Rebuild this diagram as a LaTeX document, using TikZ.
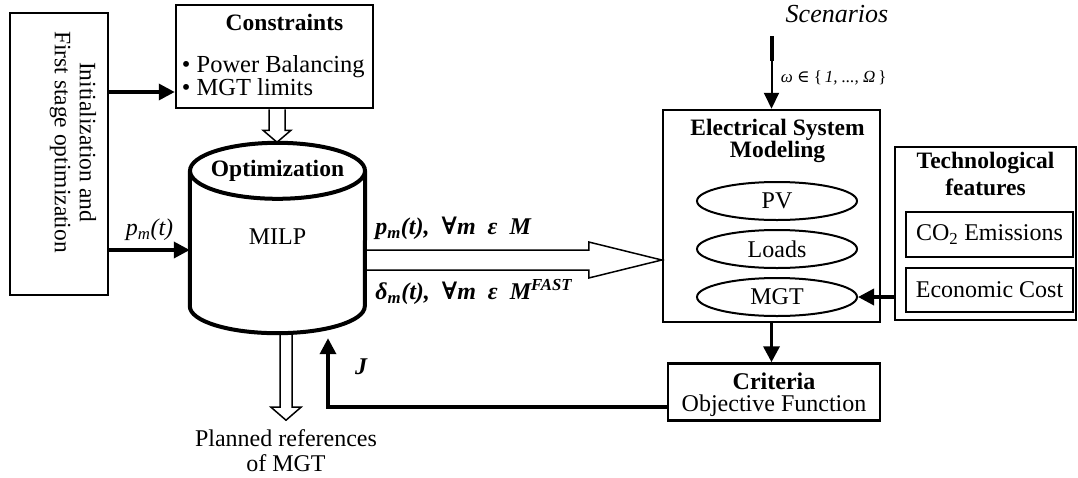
\documentclass[tikz,border=0pt]{standalone}
\usepackage{fontspec}
\setmainfont{Liberation Serif}
\newfontfamily\symfont{DejaVu Serif}
\usetikzlibrary{arrows.meta, positioning, calc, shapes.geometric}

\newcommand{\bigfont}{\fontsize{24}{22}\selectfont}

\begin{document}
\begin{tikzpicture}[x=1pt, y=-1pt, font=\bigfont,
	box/.style={draw, line width=2.5pt, inner sep=0pt},
	oval/.style={ellipse, draw, line width=2pt, minimum width=160pt, minimum height=38pt, inner sep=0pt},
	arr/.style={line width=3.5pt, -{Triangle[length=16pt, width=16pt]}},
	thinarr/.style={line width=2pt, -{Triangle[length=16pt, width=15pt]}},
	hollow/.style={draw, line width=1.5pt, line join=miter},
	cylline/.style={line width=4pt},
	cylshadow/.style={line width=3pt, gray!55}]
	\useasboundingbox (0,0) rectangle (1078,477);

	% initialization block
	\node[box, minimum width=98pt, minimum height=282pt] (init) at (59,154) {};
	\node[rotate=-90, align=center, font=\fontsize{23.5}{25}\selectfont] (initlbl)
		at ([xshift=14pt, yshift=12pt]init.center) {Initialization and\\First stage optimization};

	% constraints
	\node[box, minimum width=197pt, minimum height=103pt] (cons) at (274.5,56.5) {};
	\node[anchor=north, inner sep=0pt, font=\fontsize{23.5}{22}\selectfont\bfseries] (constitle)
		at ([xshift=10pt, yshift=-10pt]cons.north) {Constraints};
	\node[anchor=north west, align=left, inner sep=0pt, font=\fontsize{24.5}{23}\selectfont] (conslist)
		at ([xshift=7pt, yshift=-52pt]cons.north west) {\textbullet{} Power Balancing\\\textbullet{} MGT limits};
	\draw[arr] (init.east |- 0,92) -- (cons.west |- 0,92);

	% optimization cylinder
	\node[minimum width=175pt, minimum height=190pt, inner sep=0pt] (cyl) at (277.5,238) {};
	\begin{scope}[shift={(3,4)}]
		\draw[cylshadow] ([yshift=-28pt]cyl.north west) -- ([yshift=27pt]cyl.south west)
			arc[start angle=180, end angle=360, x radius=87.5pt, y radius=27pt] -- ([yshift=-28pt]cyl.north east);
		\draw[cylshadow] ([yshift=-28pt]cyl.north) ellipse[x radius=87.5pt, y radius=28pt];
	\end{scope}
	\draw[cylline] ([yshift=-28pt]cyl.north west) -- ([yshift=27pt]cyl.south west)
		arc[start angle=180, end angle=360, x radius=87.5pt, y radius=27pt] -- ([yshift=-28pt]cyl.north east);
	\draw[cylline] ([yshift=-28pt]cyl.north) ellipse[x radius=87.5pt, y radius=28pt];
	\node[font=\fontsize{23.5}{22}\selectfont\bfseries] (opt) at ([yshift=-28pt]cyl.north) {Optimization};
	\node (milp) at ([yshift=-94pt]cyl.north) {MILP};

	\draw[hollow] ([xshift=-5.5pt]cons.south) -- ++(0,21) -- ++(-6,0) -- ++(14,12) -- ++(14,-12) -- ++(-6,0) -- ++(0,-21);

	\coordinate (pin) at ([yshift=-12pt]cyl.west);
	\draw[arr] (init.east |- pin) -- (pin) node[midway, above=4pt] {\textit{p\textsubscript{m}(t)}};

	% electrical system
	\node[box, minimum width=217pt, minimum height=212pt] (elec) at (771.5,216) {};
	\node[anchor=north, align=center, inner sep=0pt, font=\fontsize{23.5}{21}\selectfont\bfseries] (electitle)
		at ([xshift=6pt, yshift=-10pt]elec.north) {Electrical System\\Modeling};
	\node[oval] (pv) at ([xshift=5.5pt, yshift=15pt]elec.center) {PV};
	\node[oval, below=8pt of pv] (loads) {Loads};
	\node[oval, below=8pt of loads] (mgt) {MGT};

	% big output arrow
	\coordinate (bigA) at ([yshift=-22pt]cyl.east);
	\coordinate (tipE) at (elec.west |- bigA);
	\draw[hollow] ([yshift=10pt]bigA) -- ([xshift=-73pt, yshift=10pt]tipE) -- ([xshift=-73pt, yshift=18pt]tipE)
		-- (tipE) -- ([xshift=-73pt, yshift=-18pt]tipE) -- ([xshift=-73pt, yshift=-10pt]tipE) -- ([yshift=-10pt]bigA);
	\node[anchor=south west, inner sep=0pt, font=\bigfont\bfseries\itshape] (plbl)
		at ([xshift=10pt, yshift=20pt]bigA) {p\textsubscript{m}(t),\ \ {\symfont ∀}m\ \ ε\ \ M};
	\node[anchor=north west, inner sep=0pt, font=\bigfont\bfseries\itshape] (dlbl)
		at ([xshift=10pt, yshift=-19pt]bigA) {δ\textsubscript{m}(t),\ \ {\symfont ∀}m\ \ ε\ \ M\textsuperscript{FAST}};

	% scenarios
	\node[font=\fontsize{26}{26}\selectfont\itshape] (scen) at (837,14) {Scenarios};
	\draw[line width=4pt] ([yshift=-10pt]elec.north |- scen.south) -- ++(0,25) coordinate (scmid);
	\draw[thinarr] (scmid) -- (elec.north)
		node[pos=0.36, right=5pt, font=\fontsize{17}{17}\selectfont] {\textit{ω} {\symfont ∈} \{\,\textit{1, ..., Ω}\,\}};

	% technological features
	\node[box, minimum width=181pt, minimum height=173pt] (tech) at (985.5,233.5) {};
	\node[anchor=north, align=center, inner sep=0pt, font=\fontsize{23.5}{27}\selectfont\bfseries] (techtitle)
		at ([yshift=-6pt]tech.north) {Technological\\features};
	\node[box, line width=2pt, minimum width=167pt, minimum height=45pt] (co2) at (989.5,234.5) {CO\textsubscript{2} Emissions};
	\node[box, line width=2pt, minimum width=167pt, minimum height=44pt] (econ) at (989.5,290) {Economic Cost};
	\draw[arr] (tech.west |- mgt.east) -- (mgt.east);

	% criteria and feedback
	\node[box, minimum width=212pt, minimum height=57pt] (crit) at (774,392) {};
	\node[align=center, inner sep=0pt] (critlbl) at ([yshift=-3pt]crit.center) {\textbf{Criteria}\\Objective Function};
	\draw[arr] (elec.south) -- (elec.south |- crit.north);
	\draw[arr] ([yshift=-15pt]crit.west) -| ([xshift=50.5pt, yshift=-5pt]cyl.south)
		node[pos=0.79, right=22pt, font=\bigfont\bfseries\itshape] (jlbl) {J};

	% planned references
	\draw[hollow] ([xshift=2.5pt]cyl.south) -- ++(0,74) -- ++(-9,0) -- ++(15,13) -- ++(15,-13) -- ++(-9,0) -- ++(0,-74);
	\node[anchor=north, align=center, font=\fontsize{24}{25}\selectfont] (plan)
		at ([xshift=8.5pt, yshift=-93pt]cyl.south) {Planned references\\of MGT};
\end{tikzpicture}
\end{document}
